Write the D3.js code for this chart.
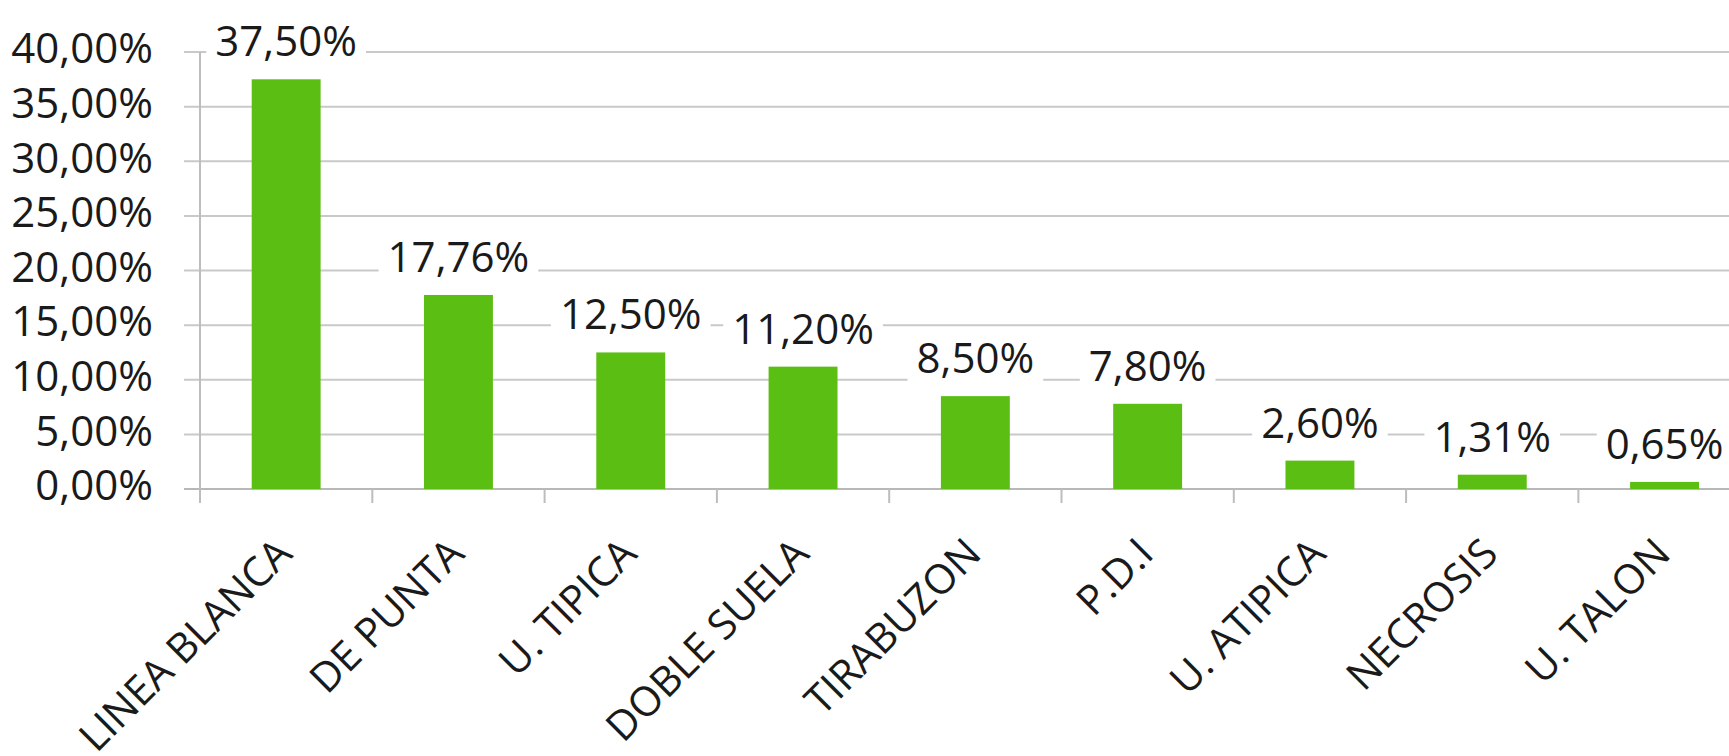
<!DOCTYPE html>
<html>
<head>
<meta charset="utf-8">
<script src="https://cdn.jsdelivr.net/npm/d3@7/dist/d3.min.js"></script>
<style>
  html, body { margin: 0; padding: 0; background: #fff; }
  svg { display: block; }
  text { font-family: "Open Sans", "Noto Sans", sans-serif; fill: #1a1a1a; }
</style>
</head>
<body>
<svg id="chart" width="1729" height="756"></svg>
<script>
const categories = ["LINEA BLANCA", "DE PUNTA", "U. TIPICA", "DOBLE SUELA", "TIRABUZON", "P.D.I", "U. ATIPICA", "NECROSIS", "U. TALON"];
const values = [37.50, 17.76, 12.50, 11.20, 8.50, 7.80, 2.60, 1.31, 0.65];
const yTicks = [0, 5, 10, 15, 20, 25, 30, 35, 40];

const locale = d3.formatLocale({ decimal: ",", thousands: ".", grouping: [3], currency: ["", "€"] });
const fmt = v => locale.format(".2f")(v) + "%";

const svg = d3.select("#chart");
const W = 1729, H = 756;
const plotLeft = 200, plotBottom = 489, plotTop = 52;

const x = d3.scaleBand().domain(categories).range([plotLeft, 1750.7]).paddingInner(0.6).paddingOuter(0.3);
const y = d3.scaleLinear().domain([0, 40]).range([plotBottom, plotTop]);
const step = x.step();

// gridlines
svg.append("g").selectAll("line").data(yTicks).join("line")
  .attr("x1", plotLeft - 16).attr("x2", W)
  .attr("y1", d => y(d)).attr("y2", d => y(d))
  .attr("stroke", d => d === 0 ? "#b8b8b8" : "#c9c9c9").attr("stroke-width", 2);

// y axis line
svg.append("line").attr("x1", plotLeft).attr("x2", plotLeft).attr("y1", y(40)).attr("y2", plotBottom + 14)
  .attr("stroke", "#bdbdbd").attr("stroke-width", 2);

// x ticks at band boundaries
svg.append("g").selectAll("line").data(categories).join("line")
  .attr("x1", d => x(d) - step * 0.3)
  .attr("x2", d => x(d) - step * 0.3)
  .attr("y1", plotBottom).attr("y2", plotBottom + 14)
  .attr("stroke", "#bdbdbd").attr("stroke-width", 2);

// y tick labels
svg.append("g").selectAll("text").data(yTicks).join("text")
  .attr("x", 153).attr("y", d => y(d)).attr("dy", "0.27em")
  .attr("text-anchor", "end").attr("font-size", 42)
  .text(d => fmt(d));

// bars
svg.append("g").selectAll("rect").data(values).join("rect")
  .attr("x", (d, i) => x(categories[i]))
  .attr("width", x.bandwidth())
  .attr("y", d => y(d))
  .attr("height", d => plotBottom - y(d))
  .attr("fill", "#5bbe12");

// data labels with white boxes
const lg = svg.append("g");
values.forEach((v, i) => {
  const cx = x(categories[i]) + x.bandwidth() / 2;
  const by = y(v) - 23;
  const t = lg.append("text").attr("x", cx).attr("y", by)
    .attr("text-anchor", "middle").attr("font-size", 42).text(fmt(v));
  const bb = t.node().getBBox();
  lg.insert("rect", "text").attr("x", bb.x - 9).attr("y", by - 40).attr("width", bb.width + 18).attr("height", 50)
    .attr("fill", "#fff");
});

// x labels
svg.append("g").selectAll("text").data(categories).join("text")
  .attr("text-anchor", "end").attr("font-size", 41)
  .attr("transform", d => `translate(${x(d) + x.bandwidth() / 2 + 8},${556}) rotate(-45)`)
  .text(d => d);
</script>
</body>
</html>
